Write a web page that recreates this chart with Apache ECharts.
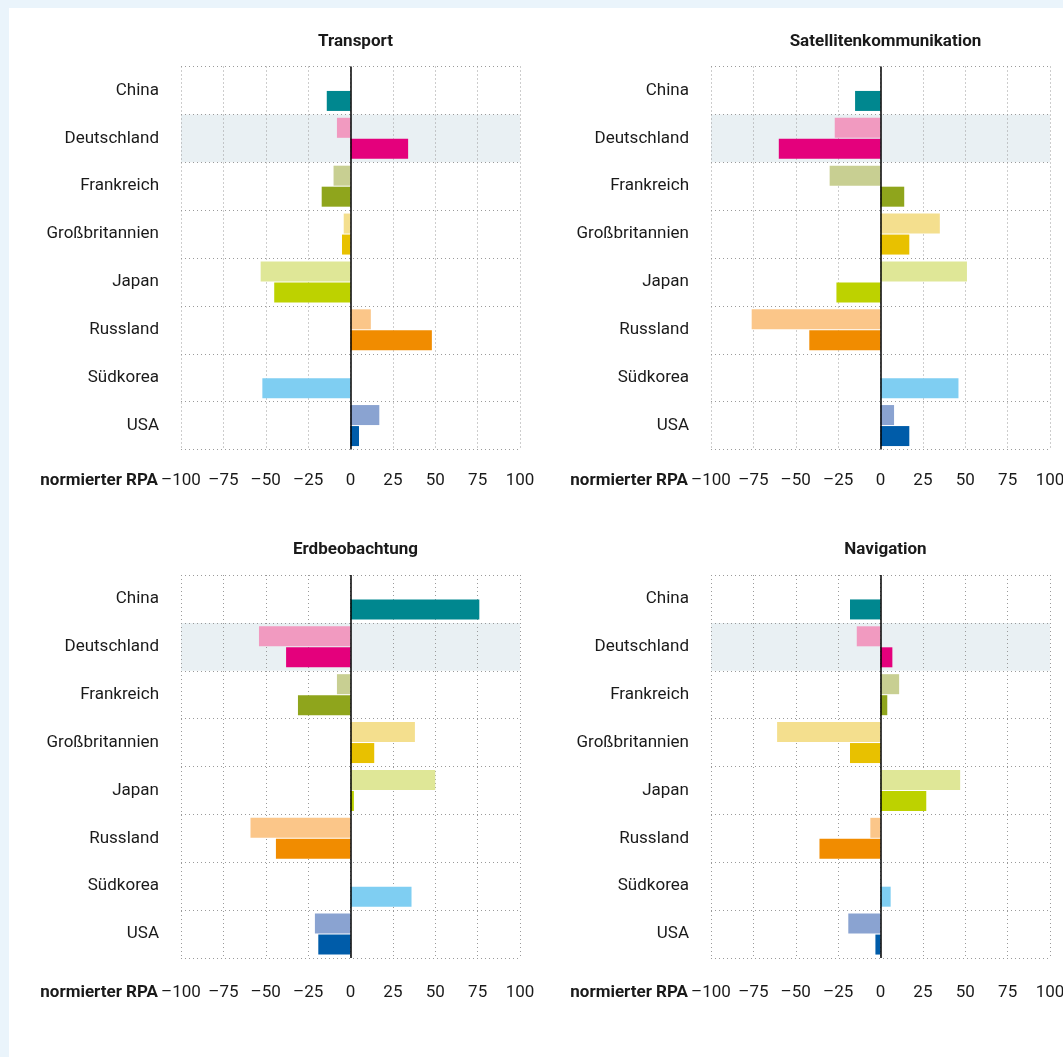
<!DOCTYPE html>
<html>
<head>
<meta charset="utf-8">
<script src="https://cdn.jsdelivr.net/npm/echarts@6/dist/echarts.min.js"></script>
<style>
  html, body { margin: 0; padding: 0; background: #eaf4fb; overflow: hidden; }
  #chart { position: absolute; left: 9px; top: 8px; width: 1054px; height: 1049px; background: #ffffff; }
</style>
</head>
<body>
<div id="chart"></div>
<script>
// ---- Data ----
const countries = ['China', 'Deutschland', 'Frankreich', 'Großbritannien', 'Japan', 'Russland', 'Südkorea', 'USA'];
const lightColors = [null, '#f19ac0', '#c8cf92', '#f4df8e', '#dfe797', '#fbc689', null, '#8aa3d1'];
const darkColors = ['#00878f', '#e4007c', '#8fa51c', '#e8c100', '#bdd200', '#f18c00', '#7fcef2', '#005ca9'];
const panelTitles = ['Transport', 'Satellitenkommunikation', 'Erdbeobachtung', 'Navigation'];
const axisLabelName = 'normierter RPA';

const transportLight = [null, -8, -10, -4, -53, 12, null, 17];
const transportDark = [-14, 34, -17, -5, -45, 48, -52, 5];
const satelliteLight = [null, -27, -30, 35, 51, -76, null, 8];
const satelliteDark = [-15, -60, 14, 17, -26, -42, 46, 17];
const earthLight = [null, -54, -8, 38, 50, -59, null, -21];
const earthDark = [76, -38, -31, 14, 2, -44, 36, -19];
const navigationLight = [null, -14, 11, -61, 47, -6, null, -19];
const navigationDark = [-18, 7, 4, -18, 27, -36, 6, -3];

const xMin = -100, xMax = 100, xStep = 25;
const highlightCountry = 'Deutschland';

const panelLight = [transportLight, satelliteLight, earthLight, navigationLight];
const panelDark = [transportDark, satelliteDark, earthDark, navigationDark];

// ---- Layout ----
const FONT = 'Roboto, "Noto Sans", sans-serif';
const plotW = 339, plotH = 383;
const gridPos = [
  { left: 172, top: 58.5, labelMargin: 23 },
  { left: 702, top: 58.5, labelMargin: 23 },
  { left: 172, top: 567, labelMargin: 26 },
  { left: 702, top: 567, labelMargin: 26 }
];

const chart = echarts.init(document.getElementById('chart'), null, { renderer: 'canvas' });

const grids = [], xAxes = [], yAxes = [], series = [], graphics = [];
const bandColors = countries.map(c => c === highlightCountry ? '#e9f0f3' : 'rgba(0,0,0,0)');
const gridLine = { color: '#9a9a9a', width: 1, type: [1, 3] };

gridPos.forEach((g, i) => {
  grids.push({ left: g.left, top: g.top, width: plotW, height: plotH, containLabel: false, outerBoundsMode: 'none' });
  xAxes.push({
    type: 'value', gridIndex: i, min: xMin, max: xMax, interval: xStep,
    axisLine: { show: false }, axisTick: { show: false },
    splitLine: { show: true, lineStyle: gridLine },
    axisLabel: {
      margin: g.labelMargin, color: '#1a1a1a', fontFamily: FONT, fontSize: 17,
      formatter: v => String(v).replace('-', '\u2013')
    }
  });
  yAxes.push({
    type: 'category', gridIndex: i, data: countries, inverse: true,
    axisLine: { show: false }, axisTick: { show: false },
    splitLine: { show: true, lineStyle: gridLine },
    splitArea: { show: true, areaStyle: { color: bandColors } },
    axisLabel: { margin: 22, color: '#1a1a1a', fontFamily: FONT, fontSize: 17 }
  });
  series.push({
    type: 'bar', xAxisIndex: i, yAxisIndex: i, barWidth: 20, barGap: '5%',
    data: panelLight[i].map((v, k) => ({ value: v, itemStyle: { color: lightColors[k] || 'transparent' } }))
  });
  series.push({
    type: 'bar', xAxisIndex: i, yAxisIndex: i, barWidth: 20, barGap: '5%',
    data: panelDark[i].map((v, k) => ({ value: v, itemStyle: { color: darkColors[k] } })),
    markLine: {
      silent: true, symbol: 'none', z: 5,
      label: { show: false },
      lineStyle: { color: '#000000', width: 1.5, type: 'solid' },
      emphasis: { disabled: true },
      data: [{ xAxis: 0 }]
    }
  });
  const cx = g.left + plotW / 2 + 5;
  graphics.push({
    type: 'text', x: cx, y: g.top - 25,
    style: { text: panelTitles[i], fill: '#1a1a1a', font: 'bold 17px ' + FONT, align: 'center', verticalAlign: 'middle' }
  });
  graphics.push({
    type: 'text', x: g.left - 23, y: g.top + plotH + g.labelMargin + 8.5,
    style: { text: axisLabelName, fill: '#1a1a1a', font: 'bold 17px ' + FONT, align: 'right', verticalAlign: 'middle' }
  });
});

chart.setOption({
  animation: false,
  grid: grids,
  xAxis: xAxes,
  yAxis: yAxes,
  series: series,
  graphic: graphics
});
</script>
</body>
</html>
